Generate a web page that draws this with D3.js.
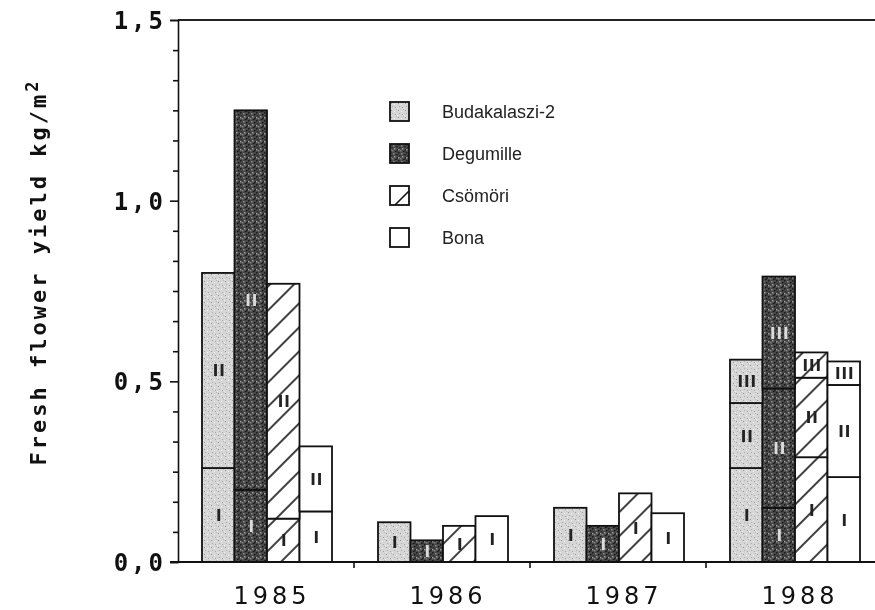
<!DOCTYPE html>
<html>
<head>
<meta charset="utf-8">
<script src="https://cdn.jsdelivr.net/npm/d3@7"></script>
<style>
  body { margin: 0; background: #fff; }
  svg { display: block; will-change: transform; }
</style>
</head>
<body>
<div class="chart"></div>
<script>
var years = ["1985", "1986", "1987", "1988"];
var varieties = ["Budakalaszi-2", "Degumille", "Csömöri", "Bona"];
var harvests = ["I", "II", "III"];

// rows = years, columns = varieties (kg/m2)
var harvestI = [
  [0.26, 0.20, 0.12, 0.14],
  [0.11, 0.06, 0.10, 0.127],
  [0.15, 0.10, 0.19, 0.135],
  [0.26, 0.15, 0.29, 0.235]
];
var harvestII = [
  [0.54, 1.05, 0.65, 0.18],
  [0, 0, 0, 0],
  [0, 0, 0, 0],
  [0.18, 0.33, 0.22, 0.255]
];
var harvestIII = [
  [0, 0, 0, 0],
  [0, 0, 0, 0],
  [0, 0, 0, 0],
  [0.12, 0.31, 0.07, 0.065]
];

var yTicks = [0, 0.5, 1.0, 1.5];

var width = 875, height = 610;

var svg = d3.select(".chart").append("svg")
  .attr("width", width)
  .attr("height", height);

var defs = svg.append("defs");

// light stipple
var pBuda = defs.append("pattern").attr("id", "buda")
  .attr("patternUnits", "userSpaceOnUse").attr("width", 7).attr("height", 7);
pBuda.append("rect").attr("width", 7).attr("height", 7).attr("fill", "#d6d6d6");
[[1, 1, "#9a9a9a"], [4, 2, "#f4f4f4"], [2, 4, "#b0b0b0"], [5, 5, "#a5a5a5"], [0, 6, "#eeeeee"], [6, 0, "#bdbdbd"]]
  .forEach(function (p) {
    pBuda.append("rect").attr("x", p[0]).attr("y", p[1]).attr("width", 1).attr("height", 1).attr("fill", p[2]);
  });

// dark stipple
var pDeg = defs.append("pattern").attr("id", "deg")
  .attr("patternUnits", "userSpaceOnUse").attr("width", 8).attr("height", 8);
pDeg.append("rect").attr("width", 8).attr("height", 8).attr("fill", "#484848");
[[0, 0, "#1a1a1a"], [3, 1, "#8a8a8a"], [6, 2, "#1e1e1e"], [1, 3, "#2a2a2a"], [4, 4, "#9a9a9a"],
 [7, 5, "#222"], [2, 6, "#7a7a7a"], [5, 7, "#161616"], [0, 5, "#999"], [6, 6, "#2a2a2a"]]
  .forEach(function (p) {
    pDeg.append("rect").attr("x", p[0]).attr("y", p[1]).attr("width", 1.5).attr("height", 1.5).attr("fill", p[2]);
  });

// diagonal hatch
var pCs = defs.append("pattern").attr("id", "cs")
  .attr("patternUnits", "userSpaceOnUse").attr("width", 17).attr("height", 17)
  .attr("patternTransform", "rotate(45)");
pCs.append("rect").attr("width", 17).attr("height", 17).attr("fill", "#fff");
pCs.append("line").attr("x1", 1).attr("y1", 0).attr("x2", 1).attr("y2", 17)
  .attr("stroke", "#111").attr("stroke-width", 1.6);

var fills = ["url(#buda)", "url(#deg)", "url(#cs)", "#fff"];
var labelColors = ["#222", "#dcdcdc", "#222", "#222"];

var x0 = d3.scaleBand().domain(years).range([178, 882]).padding(0);
var x1 = d3.scaleBand().domain(varieties).range([24, 154]).padding(0);
var y = d3.scaleLinear().domain([0, 1.5]).range([562, 20]);

var rows = [];
years.forEach(function (yr, i) {
  varieties.forEach(function (v, j) {
    rows.push({ year: yr, variety: v, vi: j, I: harvestI[i][j], II: harvestII[i][j], III: harvestIII[i][j] });
  });
});

var series = d3.stack().keys(harvests)(rows);

var segs = [];
series.forEach(function (s) {
  s.forEach(function (d) {
    if (d[1] - d[0] > 0) segs.push({ key: s.key, y0: d[0], y1: d[1], row: d.data });
  });
});

var bars = svg.append("g");

bars.selectAll("rect")
  .data(segs)
  .enter().append("rect")
  .attr("x", function (d) { return x0(d.row.year) + x1(d.row.variety); })
  .attr("width", x1.bandwidth())
  .attr("y", function (d) { return y(d.y1); })
  .attr("height", function (d) { return y(d.y0) - y(d.y1); })
  .attr("fill", function (d) { return fills[d.row.vi]; })
  .attr("stroke", "#111")
  .attr("stroke-width", 1.8);

bars.selectAll("text")
  .data(segs)
  .enter().append("text")
  .attr("x", function (d) { return x0(d.row.year) + x1(d.row.variety) + x1.bandwidth() / 2 + 1; })
  .attr("y", function (d) { return (y(d.y0) + y(d.y1)) / 2 + 6; })
  .attr("text-anchor", "middle")
  .style("font-family", "'DejaVu Sans', sans-serif")
  .style("font-size", "15px")
  .style("font-weight", "bold")
  .style("letter-spacing", "1px")
  .attr("fill", function (d) { return labelColors[d.row.vi]; })
  .text(function (d) { return d.key; });

// top frame line
svg.append("line")
  .attr("x1", 178).attr("x2", width).attr("y1", y(1.5)).attr("y2", y(1.5))
  .attr("stroke", "#222").attr("stroke-width", 2.2);

// x axis
var xAxis = svg.append("g")
  .attr("transform", "translate(0," + y(0) + ")");
xAxis.append("line")
  .attr("x1", 170).attr("x2", width).attr("y1", 0).attr("y2", 0)
  .attr("stroke", "#111").attr("stroke-width", 1.8);
xAxis.selectAll(".xt")
  .data(years.slice(1))
  .enter().append("line")
  .attr("class", "xt")
  .attr("x1", function (d) { return x0(d); }).attr("x2", function (d) { return x0(d); })
  .attr("y1", 0).attr("y2", 6)
  .attr("stroke", "#111").attr("stroke-width", 1.6);
xAxis.selectAll(".xl")
  .data(years)
  .enter().append("text")
  .attr("class", "xl")
  .attr("x", function (d) { return x0(d) + x0.bandwidth() / 2 + 6; })
  .attr("y", 42)
  .attr("text-anchor", "middle")
  .style("font-family", "'DejaVu Sans', sans-serif")
  .style("font-size", "24px")
  .style("letter-spacing", "4px")
  .attr("fill", "#111")
  .text(function (d) { return d; });

// y axis: minor ticks every 1/12
function notMajor(v) { return Math.abs(v * 2 - Math.round(v * 2)) > 1e-6; }
var minor = d3.range(1, 18).map(function (k) { return k / 12; }).filter(notMajor);

var yAxis = svg.append("g").attr("transform", "translate(178,0)");
yAxis.call(d3.axisLeft(y).tickValues(yTicks).tickSize(8).tickPadding(4)
  .tickFormat(function (d) { return d.toFixed(1).replace(".", ","); }));
yAxis.append("g").call(d3.axisLeft(y).tickValues(minor).tickSize(5).tickFormat(""))
  .select(".domain").remove();
yAxis.selectAll("path, line").attr("stroke", "#111").attr("stroke-width", 1.6);
yAxis.selectAll("text")
  .attr("fill", "#111")
  .attr("dy", "0.36em")
  .style("font-family", "'DejaVu Sans Mono', monospace")
  .style("font-weight", "bold")
  .style("font-size", "24px")
  .style("letter-spacing", "3px");

// y title
var title = svg.append("text")
  .attr("transform", "translate(46,272) rotate(-90)")
  .attr("text-anchor", "middle")
  .style("font-family", "'DejaVu Sans Mono', monospace")
  .style("font-weight", "bold")
  .style("font-size", "22px")
  .style("letter-spacing", "3px")
  .attr("fill", "#111");
title.append("tspan").text("Fresh flower yield  kg/m");
title.append("tspan").attr("dy", "-0.5em").style("font-size", "17px").text("2");

// legend
var legend = svg.append("g").attr("transform", "translate(390,102)");
var li = legend.selectAll("g")
  .data(varieties)
  .enter().append("g")
  .attr("transform", function (d, i) { return "translate(0," + i * 42 + ")"; });
li.append("rect")
  .attr("width", 19).attr("height", 19)
  .attr("fill", function (d, i) { return i === 2 ? "#fff" : fills[i]; })
  .attr("stroke", "#111").attr("stroke-width", 1.8);
li.filter(function (d, i) { return i === 2; }).append("line")
  .attr("x1", 5).attr("y1", 19).attr("x2", 19).attr("y2", 5)
  .attr("stroke", "#111").attr("stroke-width", 1.6);
li.append("text")
  .attr("x", 52).attr("y", 16)
  .style("font-family", "'Liberation Sans', Arial, sans-serif")
  .style("font-size", "18px")
  .attr("fill", "#222")
  .text(function (d) { return d; });
</script>
</body>
</html>
